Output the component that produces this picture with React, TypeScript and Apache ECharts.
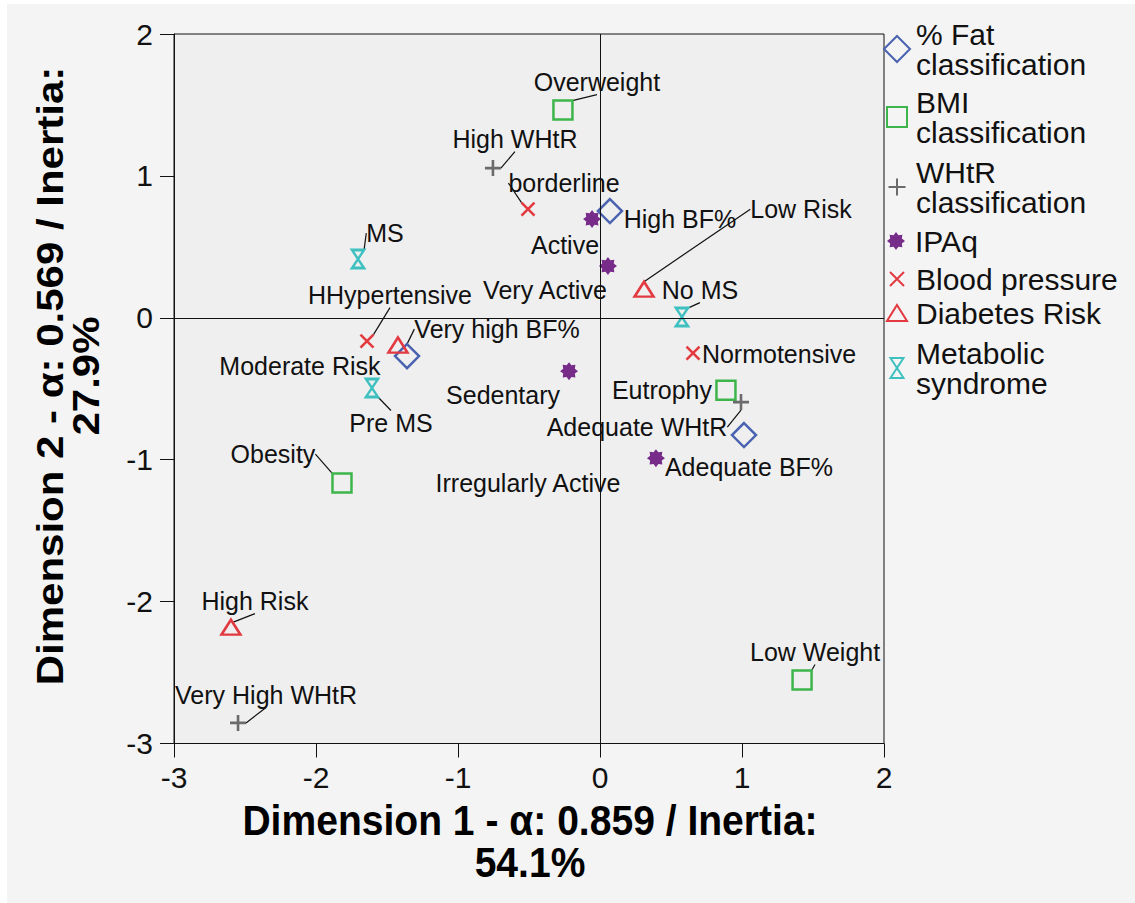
import React, { useEffect, useRef } from 'react';
import * as echarts from 'echarts';

const FONT = '"Liberation Sans", Arial, Helvetica, sans-serif';

// ---------- data ----------
const fatNames = ['High BF%', 'Very high BF%', 'Adequate BF%'];
const fatX = [0.07, -1.359, 1.014];
const fatY = [0.752, -0.27, -0.826];

const bmiNames = ['Overweight', 'Eutrophy', 'Obesity', 'Low Weight'];
const bmiX = [-0.261, 0.887, -1.817, 1.423];
const bmiY = [1.464, -0.51, -1.165, -2.553];

const whtrNames = ['High WHtR', 'Adequate WHtR', 'Very High WHtR'];
const whtrX = [-0.754, 0.993, -2.549];
const whtrY = [1.055, -0.594, -2.855];

const ipaqNames = ['Active', 'Very Active', 'Sedentary', 'Irregularly Active'];
const ipaqX = [-0.056, 0.056, -0.218, 0.394];
const ipaqY = [0.696, 0.365, -0.376, -0.989];

const bpNames = ['borderline', 'HHypertensive', 'Normotensive'];
const bpX = [-0.507, -1.641, 0.655];
const bpY = [0.766, -0.164, -0.249];

const diabNames = ['Low Risk', 'Moderate Risk', 'High Risk'];
const diabX = [0.31, -1.423, -2.599];
const diabY = [0.202, -0.192, -2.18];

const msNames = ['MS', 'No MS', 'Pre MS'];
const msX = [-1.704, 0.577, -1.606];
const msY = [0.414, 0.005, -0.495];

const seriesNames = [
  '% Fat\nclassification',
  'BMI\nclassification',
  'WHtR\nclassification',
  'IPAq',
  'Blood pressure',
  'Diabetes Risk',
  'Metabolic\nsyndrome',
];

const axisMin = -3;
const axisMax = 2;
const axisStep = 1;

const xTitle = 'Dimension 1 - α: 0.859 / Inertia:\n54.1%';
const yTitle = 'Dimension 2 - α: 0.569 / Inertia:\n27.9%';

// ---------- label layout (pixel offsets of label centre from the marker) ----------
const fatOff = [[70, 8], [90, -27], [5, 32]];
const fatLead = [false, true, false];
const bmiOff = [[34, -28], [-64, 0], [-69, -29], [13, -28]];
const bmiLead = [true, false, true, true];
const whtrOff = [[22, -29], [-104, 25], [28, -28]];
const whtrLead = [true, true, true];
const ipaqOff = [[-27, 26], [-63, 24], [-66, 24], [-128, 25]];
const ipaqLead = [false, false, false, false];
const bpOff = [[36, -26], [23, -46], [86, 1]];
const bpLead = [true, true, false];
const diabOff = [[157, -80], [-98, 21], [24, -26]];
const diabLead = [true, false, true];
const msOff = [[27, -26], [18, -27], [19, 35]];
const msLead = [true, true, true];

// ---------- symbols ----------
function starPath(): string {
  const pts: string[] = [];
  for (let i = 0; i < 16; i++) {
    const r = i % 2 === 0 ? 10 : 7;
    const a = (Math.PI * i) / 8 - Math.PI / 2;
    pts.push(`${(10 + r * Math.cos(a)).toFixed(2)},${(10 + r * Math.sin(a)).toFixed(2)}`);
  }
  return 'path://M' + pts.join(' L') + ' Z';
}
const SYM_PLUS = 'path://M0,8 L16,8 M8,0 L8,16';
const SYM_X = 'path://M0,0 L14,14 M14,0 L0,14';
const SYM_HOUR = 'path://M0,0 L13,0 L0,20 L13,20 Z';
const SYM_STAR = starPath();

const C_BLUE = '#4a62b0';
const C_GREEN = '#3db54b';
const C_GRAY = '#6b6b6b';
const C_PURPLE = '#772c8a';
const C_RED = '#e23a40';
const C_CYAN = '#3fc0c0';

const LEADER = { color: '#111', width: 1.2 };

function mkSeries(
  name: string,
  names: string[],
  xs: number[],
  ys: number[],
  symbol: string,
  size: number | number[],
  color: string,
  filled: boolean,
  offs: number[][],
  leads: boolean[],
  bw = 2.5
) {
  return {
    type: 'scatter',
    name,
    symbol,
    symbolSize: size,
    z: 3,
    itemStyle: filled
      ? { color, borderWidth: 0, opacity: 1 }
      : { color: 'transparent', borderColor: color, borderWidth: bw, opacity: 1 },
    label: {
      show: true,
      position: 'inside',
      formatter: '{b}',
      fontSize: 25,
      fontFamily: FONT,
      color: '#111',
      align: 'center',
      verticalAlign: 'middle',
      textBorderWidth: 0,
    },
    labelLine: { show: false, length2: 0, smooth: false, lineStyle: LEADER },
    labelLayout: (p: any) => ({ dx: offs[p.dataIndex][0], dy: offs[p.dataIndex][1] }),
    emphasis: { disabled: true },
    data: names.map((n, i) => ({
      name: n,
      value: [xs[i], ys[i]],
      labelLine: { show: leads[i], length2: 0, smooth: false, lineStyle: LEADER },
    })),
  };
}

// legend placement: icon centre y, icon size
const legendIconY = [49, 117, 187, 241, 279, 313, 368];
const legendIconW = [26, 20, 17, 18, 14, 20, 13];
const legendIconH = [26, 20, 17, 18, 14, 16, 20];

export default function App() {
  const ref = useRef<HTMLDivElement>(null);

  useEffect(() => {
    if (!ref.current) return;
    const chart = echarts.init(ref.current, undefined, { renderer: 'svg' });

    const legends = seriesNames.map((nm, i) => {
      const lines = nm.split('\n').length;
      const padTop = 11;
      const boxH = lines * 30 + padTop;
      const w = legendIconW[i];
      const h = legendIconH[i];
      return {
        show: true,
        data: [nm],
        orient: 'vertical',
        selectedMode: false,
        left: 896 - w / 2,
        top: legendIconY[i] - Math.max(boxH, h) / 2,
        itemWidth: w,
        itemHeight: h,
        padding: 0,
        textStyle: {
          fontSize: 30,
          lineHeight: 30,
          fontFamily: FONT,
          color: '#111',
          padding: [padTop, 0, 0, 14 - w / 2],
        },
      };
    });

    const option: any = {
      animation: false,
      grid: {
        left: 174,
        top: 34,
        right: 1135 - 884,
        bottom: 903 - 743.5,
        show: true,
        backgroundColor: '#efefef',
        borderColor: '#111',
        borderWidth: 1,
      },
      xAxis: {
        type: 'value',
        min: axisMin,
        max: axisMax,
        interval: axisStep,
        axisLine: { show: true, onZero: false, lineStyle: { color: '#111', width: 1 } },
        axisTick: { show: true, inside: false, length: 14, lineStyle: { color: '#111', width: 1 } },
        axisLabel: { fontSize: 30, fontFamily: FONT, color: '#111', margin: 19 },
        splitLine: { show: false },
      },
      yAxis: {
        type: 'value',
        min: axisMin,
        max: axisMax,
        interval: axisStep,
        axisLine: { show: true, onZero: false, lineStyle: { color: '#111', width: 1 } },
        axisTick: { show: true, inside: false, length: 14, lineStyle: { color: '#111', width: 1 } },
        axisLabel: { fontSize: 30, fontFamily: FONT, color: '#111', margin: 21 },
        splitLine: { show: false },
      },
      legend: legends,
      graphic: [
        {
          type: 'text',
          x: 530,
          y: 841,
          scaleX: 0.93,
          silent: true,
          style: {
            text: xTitle,
            fontSize: 42,
            fontWeight: 'bold',
            fontFamily: FONT,
            fill: '#000',
            textAlign: 'center',
            textVerticalAlign: 'middle',
            lineHeight: 42,
          },
        },
        {
          type: 'text',
          x: 68,
          y: 376,
          rotation: Math.PI / 2,
          scaleY: 0.88,
          silent: true,
          style: {
            text: yTitle,
            fontSize: 42,
            fontWeight: 'bold',
            fontFamily: FONT,
            fill: '#000',
            textAlign: 'center',
            textVerticalAlign: 'middle',
            lineHeight: 40,
          },
        },
      ],
      series: [
        {
          type: 'line',
          name: '__zero',
          data: [],
          silent: true,
          z: 1,
          markLine: {
            silent: true,
            symbol: ['none', 'none'],
            label: { show: false },
            lineStyle: { color: '#111', width: 1, type: 'solid' },
            emphasis: { disabled: true },
            data: [{ xAxis: 0 }, { yAxis: 0 }],
          },
        },
        mkSeries(seriesNames[0], fatNames, fatX, fatY, 'diamond', 24, C_BLUE, false, fatOff, fatLead),
        mkSeries(seriesNames[1], bmiNames, bmiX, bmiY, 'rect', 19, C_GREEN, false, bmiOff, bmiLead),
        mkSeries(seriesNames[2], whtrNames, whtrX, whtrY, SYM_PLUS, 16, C_GRAY, false, whtrOff, whtrLead, 2.6),
        mkSeries(seriesNames[3], ipaqNames, ipaqX, ipaqY, SYM_STAR, 18, C_PURPLE, true, ipaqOff, ipaqLead),
        mkSeries(seriesNames[4], bpNames, bpX, bpY, SYM_X, 13, C_RED, false, bpOff, bpLead, 2.6),
        mkSeries(seriesNames[5], diabNames, diabX, diabY, 'triangle', [19, 15], C_RED, false, diabOff, diabLead),
        mkSeries(seriesNames[6], msNames, msX, msY, SYM_HOUR, [12, 18], C_CYAN, false, msOff, msLead),
      ],
    };

    chart.setOption(option);
    return () => chart.dispose();
  }, []);

  return (
    <div style={{ position: 'absolute', left: 0, top: 0, width: 1135, height: 903, background: '#ffffff' }}>
      <div style={{ position: 'absolute', left: 7, top: 4, right: 0, bottom: 0, background: '#f4f4f4' }} />
      <div ref={ref} style={{ position: 'absolute', left: 0, top: 0, width: 1135, height: 903 }} />
    </div>
  );
}
